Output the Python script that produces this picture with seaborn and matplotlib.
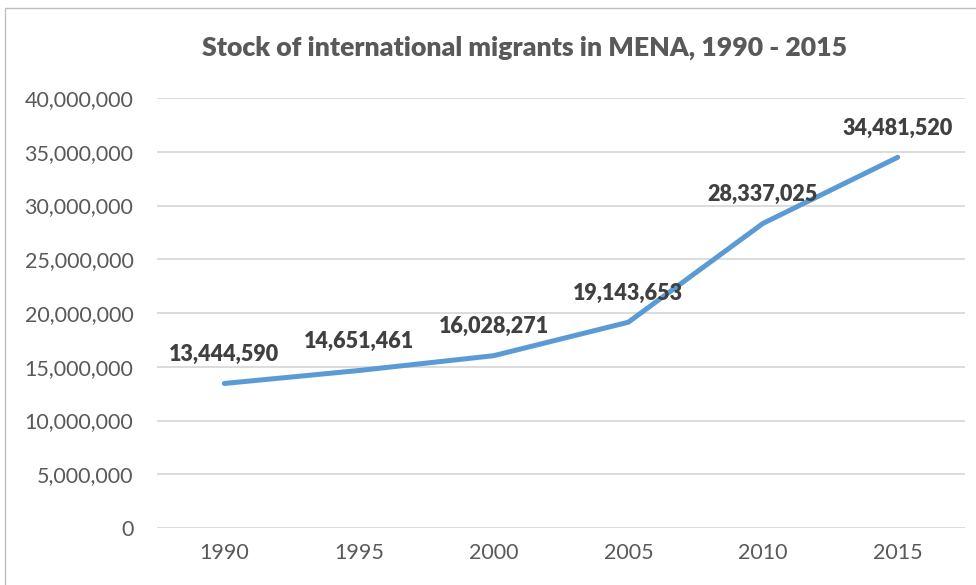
import matplotlib
matplotlib.use("Agg")
import matplotlib.pyplot as plt
import seaborn as sns
import pandas as pd
from matplotlib.patches import Rectangle
from matplotlib.ticker import FuncFormatter, MultipleLocator

years = ["1990", "1995", "2000", "2005", "2010", "2015"]
migrants = [13444590, 14651461, 16028271, 19143653, 28337025, 34481520]
title = "Stock of international migrants in MENA, 1990 - 2015"

sns.set_style("white")
plt.rcParams["font.family"] = ["Lato", "DejaVu Sans"]

df = pd.DataFrame({"year": years, "migrants": migrants})

fig = plt.figure(figsize=(9.76, 5.85), dpi=100)
ax = fig.add_axes([157/976, 1-528/585, (965-157)/976, (528-98)/585])

sns.lineplot(data=df, x="year", y="migrants", ax=ax, color="#5B9BD5",
             linewidth=3.6, sort=False, solid_capstyle="round")

ax.set_xlim(-0.5, len(years) - 0.5)
ax.set_ylim(0, 40_000_000)
ax.yaxis.set_major_locator(MultipleLocator(5_000_000))
ax.yaxis.set_major_formatter(FuncFormatter(lambda v, p: f"{int(v):,}"))
ax.grid(axis="y", color="#D9D9D9", linewidth=1.3)
ax.set_axisbelow(True)
for s in ax.spines.values():
    s.set_visible(False)
ax.set_xlabel("")
ax.set_ylabel("")
ax.tick_params(axis="both", length=0, labelsize=15.5, labelcolor="#595959")
ax.tick_params(axis="y", pad=17)
ax.tick_params(axis="x", pad=11)

for i, v in enumerate(migrants):
    ax.annotate(f"{v:,}", (i, v), xytext=(0, 21), textcoords="offset points",
                ha="center", va="center", fontsize=15.5, fontweight="heavy",
                color="#404040")

fig.text(525/976, 1-48/585, title, ha="center", va="center", fontsize=19.2,
         fontweight="heavy", color="#595959")

fig.patches.append(Rectangle((5/976, -0.1), 1.2, 1.1 - 8/585, transform=fig.transFigure,
                             fill=False, edgecolor="#BFBFBF", linewidth=1.0))

fig.savefig("out.png", dpi=100)
